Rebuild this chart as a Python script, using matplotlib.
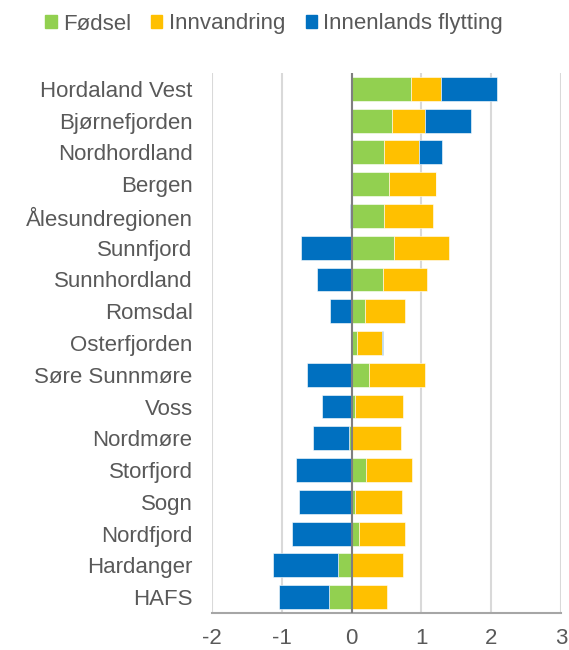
import numpy as np
import matplotlib
matplotlib.use('Agg')
from matplotlib import pyplot as plt
from matplotlib.patches import Patch

plt.rcParams['font.family'] = ['Liberation Sans', 'DejaVu Sans']
plt.rcParams['axes.unicode_minus'] = False

regions = ['Hordaland Vest', 'Bjørnefjorden', 'Nordhordland', 'Bergen', 'Ålesundregionen',
           'Sunnfjord', 'Sunnhordland', 'Romsdal', 'Osterfjorden', 'Søre Sunnmøre', 'Voss',
           'Nordmøre', 'Storfjord', 'Sogn', 'Nordfjord', 'Hardanger', 'HAFS']
fodsel = [0.85, 0.58, 0.47, 0.53, 0.47, 0.60, 0.45, 0.19, 0.08, 0.25, 0.05,
          -0.04, 0.20, 0.05, 0.10, -0.19, -0.32]
innvandring = [0.43, 0.47, 0.49, 0.68, 0.69, 0.79, 0.63, 0.58, 0.36, 0.80, 0.69,
               0.71, 0.67, 0.67, 0.66, 0.73, 0.51]
innenlands = [0.80, 0.66, 0.33, 0.0, -0.02, -0.72, -0.50, -0.31, 0.01, -0.64, -0.43,
              -0.52, -0.79, -0.76, -0.85, -0.94, -0.72]

series = [('Fødsel', fodsel, '#92D050'),
          ('Innvandring', innvandring, '#FFC000'),
          ('Innenlands flytting', innenlands, '#0070C0')]

text_col = '#595959'
fig = plt.figure(figsize=(5.69, 6.5), dpi=100)
ax = fig.add_axes([0.3726, 0.0569, 0.6134, 0.8308])

y = np.arange(len(regions))[::-1]
pos_base = np.zeros(len(regions))
neg_base = np.zeros(len(regions))
for name, vals, col in series:
    v = np.array(vals)
    base = np.where(v >= 0, pos_base, neg_base)
    ax.barh(y, v, left=base, height=0.75, color=col, edgecolor='white',
            linewidth=0.4, zorder=3)
    pos_base += np.where(v >= 0, v, 0)
    neg_base += np.where(v < 0, v, 0)

ax.set_xlim(-2, 3)
ax.set_ylim(-0.5, len(regions) - 0.5)
ax.set_xticks([-2, -1, 0, 1, 2, 3])
ax.set_yticks(y)
ax.set_yticklabels(regions)
ax.grid(axis='x', color='#D9D9D9', linewidth=1.5, zorder=0)
ax.axvline(0, color='#7F7F7F', linewidth=1.5, zorder=4)
for s in ['top', 'right', 'left']:
    ax.spines[s].set_visible(False)
ax.spines['bottom'].set_color('#A6A6A6')
ax.spines['bottom'].set_linewidth(1.5)
ax.tick_params(axis='both', length=0, labelsize=16, colors=text_col)
ax.tick_params(axis='y', pad=14)
ax.tick_params(axis='x', pad=11)

handles = [Patch(color=c, label=n) for n, _, c in series]
fig.legend(handles=handles, loc='upper center', bbox_to_anchor=(0.482, 1.01), ncol=3,
           frameon=False, fontsize=16, labelcolor=text_col, handlelength=0.5,
           handleheight=0.5, handletextpad=0.3, columnspacing=0.9)

fig.savefig('out.png', dpi=100)
